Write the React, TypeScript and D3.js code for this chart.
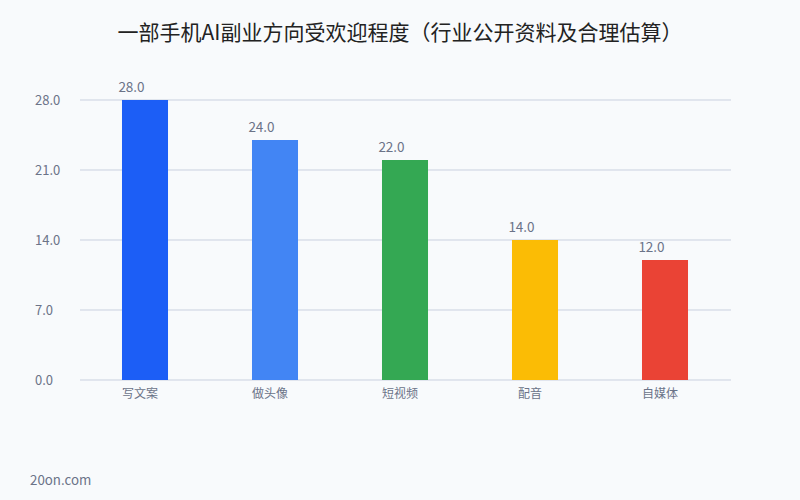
import React from "react";
import * as d3 from "d3";

const categories = ["写文案", "做头像", "短视频", "配音", "自媒体"];
const values = [28, 24, 22, 14, 12];
const colors = ["#1c5ef6", "#4285f4", "#34a853", "#fbbc05", "#ea4335"];
const yTicks = [0, 7, 14, 21, 28];
const title = "一部手机AI副业方向受欢迎程度（行业公开资料及合理估算）";
const footer = "20on.com";

export default function App() {
  const W = 800, H = 500;
  const left = 80, right = 730, top = 100, bottom = 380;
  const x = d3.scaleBand<string>().domain(categories).range([left, right]).paddingInner(0.646).paddingOuter(0.323);
  const y = d3.scaleLinear().domain([0, 28]).range([bottom, top]);
  const font = "'Noto Sans CJK SC', 'Noto Sans', sans-serif";
  const textColor = "#6b7388";
  return (
    <svg width={W} height={H} style={{ position: "absolute", left: 0, top: 0, display: "block" }} fontFamily={font}>
      <rect width={W} height={H} fill="#f8fafc" />
      <text x={400} y={40} textAnchor="middle" fontSize={21} fill="#222">{title}</text>
      {yTicks.map((t) => (
        <g key={t}>
          <line x1={left} x2={right + 1} y1={y(t)} y2={y(t)} stroke="#c9d0df" strokeWidth={1} />
          <text x={35} y={y(t) + 4.5} fontSize={13} fill={textColor}>{t.toFixed(1)}</text>
        </g>
      ))}
      {categories.map((c, i) => (
        <g key={c}>
          <rect x={x(c)} y={y(values[i])} width={x.bandwidth()} height={y(0) - y(values[i])} fill={colors[i]} />
          <text x={x(c)! + x.bandwidth() / 2 - 13.5} y={y(values[i]) - 8} textAnchor="middle" fontSize={13.5} fill={textColor}>{values[i].toFixed(1)}</text>
          <text x={x(c)! + x.bandwidth() / 2 - 5} y={398} textAnchor="middle" fontSize={12} fill={textColor}>{c}</text>
        </g>
      ))}
      <text x={30} y={485} fontSize={13.3} fill={textColor}>{footer}</text>
    </svg>
  );
}
